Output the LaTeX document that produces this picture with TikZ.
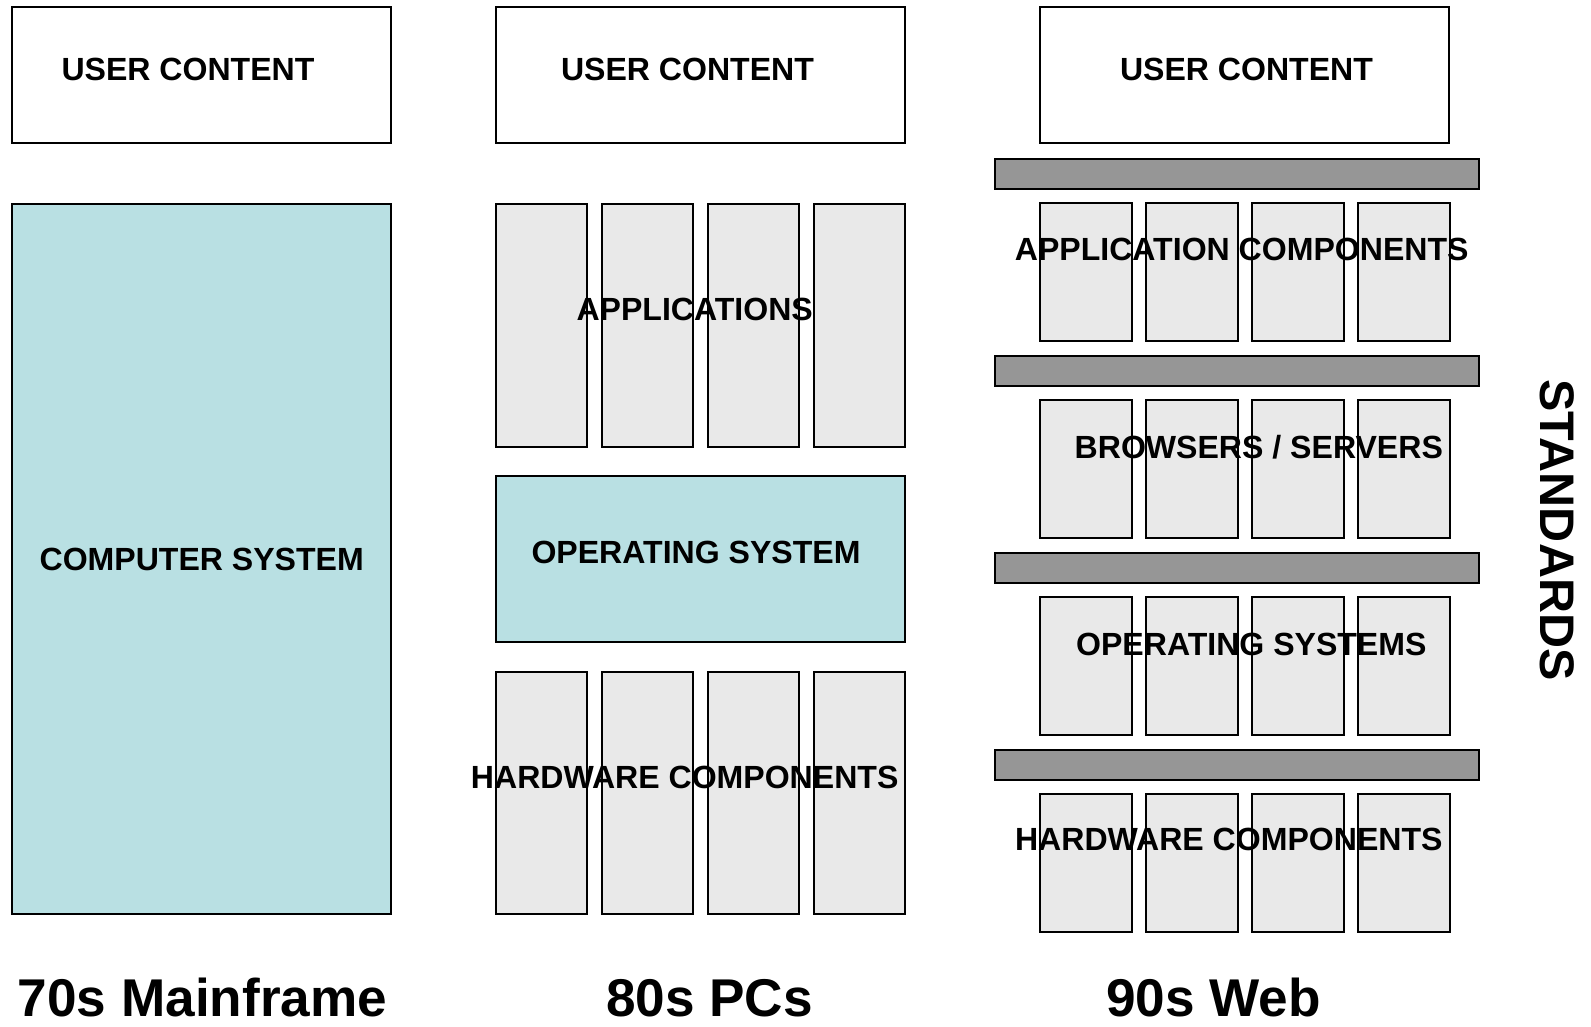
\documentclass[tikz,border=0pt]{standalone}
\usepackage{fontspec}
\setmainfont{Liberation Sans}
\definecolor{syscol}{RGB}{185,224,227}
\definecolor{slotcol}{RGB}{233,233,233}
\definecolor{barcol}{RGB}{150,150,150}

\begin{document}
\begin{tikzpicture}[x=0.025cm,y=-0.025cm]
\tikzset{
  box/.style={draw=black,line width=1.35pt,fill=white},
  sysbox/.style={box,fill=syscol},
  slot/.style={box,fill=slotcol},
  stdbar/.style={box,fill=barcol},
  lbl/.style={font=\fontsize{22.8}{26}\selectfont\bfseries,anchor=base,inner sep=0pt},
  era/.style={font=\fontsize{37.8}{42}\selectfont\bfseries,anchor=base,inner sep=0pt}
}
\useasboundingbox (0,0) rectangle (1591,1026);

% mainframe column
\draw[box] (12,7) rectangle (391,143);
\draw[sysbox] (12,204) rectangle (391,914);

% pc column
\draw[box] (496,7) rectangle (905,143);
\foreach \x in {496,602,708,814} {
  \draw[slot] (\x,204) rectangle ++(91,243);
  \draw[slot] (\x,672) rectangle ++(91,242);
}
\draw[sysbox] (496,476) rectangle (905,642);

% web column
\draw[box] (1040,7) rectangle (1449,143);
\foreach \y in {159,356,553,750}
  \draw[stdbar] (995,\y) rectangle ++(484,30);
\foreach \y in {203,400,597,794}
  \foreach \x in {1040,1146,1252,1358}
    \draw[slot] (\x,\y) rectangle ++(92,138);

% labels
\node[lbl] (uc_a) at (188,80) {USER CONTENT};
\node[lbl] (uc_b) at (687.5,80) {USER CONTENT};
\node[lbl] (uc_c) at (1246.5,80) {USER CONTENT};
\node[lbl] (cs) at (201.7,570.7) {COMPUTER SYSTEM};
\node[lbl] (apps) at (694.7,320.7) {APPLICATIONS};
\node[lbl] (os) at (696,563.3) {OPERATING SYSTEM};
\node[lbl] (hw_b) at (684.7,788.3) {HARDWARE COMPONENTS};
\node[lbl] (appc) at (1241.7,260) {APPLICATION COMPONENTS};
\node[lbl] (brsv) at (1258.8,458.3) {BROWSERS / SERVERS};
\node[lbl] (oss) at (1251.3,655) {OPERATING SYSTEMS};
\node[lbl] (hw_c) at (1228.8,850.7) {HARDWARE COMPONENTS};
\node[font=\fontsize{34.5}{38}\selectfont\bfseries,rotate=-90,inner sep=0pt] (std) at (1557,530) {STANDARDS};

% era captions
\node[era] (era_a) at (202.5,1016) {70s Mainframe};
\node[era] (era_b) at (709.5,1016) {80s PCs};
\node[era] (era_c) at (1213.5,1016) {90s Web};
\end{tikzpicture}
\end{document}
